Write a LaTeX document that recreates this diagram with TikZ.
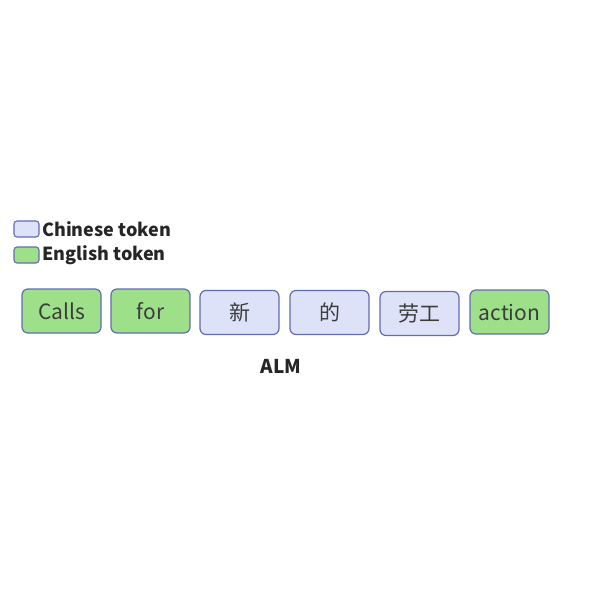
\documentclass[tikz,border=0pt]{standalone}
\usepackage{fontspec}
\setmainfont{Noto Sans CJK SC}
\definecolor{engfill}{RGB}{158,224,138}
\definecolor{chnfill}{RGB}{221,226,248}
\definecolor{tokline}{RGB}{98,108,178}
\definecolor{toktext}{RGB}{60,60,60}
\begin{document}
\begin{tikzpicture}[x=1pt, y=-1pt]
\tikzset{
  token/.style={draw=tokline, line width=1.2pt, rounded corners=6pt,
    minimum width=79pt, minimum height=44pt, inner sep=0pt,
    text=toktext, font=\fontsize{21}{21}\selectfont},
  eng/.style={token, fill=engfill},
  chn/.style={token, fill=chnfill},
  legbox/.style={draw=tokline, line width=1.1pt, rounded corners=3pt,
    minimum width=25pt, minimum height=16pt, inner sep=0pt},
  legtext/.style={anchor=west, inner sep=0pt, text=black!85,
    font=\fontsize{18}{18}\selectfont\bfseries}
}
\useasboundingbox (0,0) rectangle (605,605);

% === Legend ===
\node[legbox, fill=chnfill] (LegendChn) at (26.5,229) {};
\node[legtext] (LegendChnText) at (42,229) {Chinese token};
\node[legbox, fill=engfill] (LegendEng) at (26.5,255) {};
\node[legtext] (LegendEngText) at (42,255) {English token};

% === Tokens ===
\foreach \x/\y/\kind/\word [count=\i] in {
  61.5/311/eng/Calls, 150.5/311/eng/for, 239.5/312.5/chn/新,
  329.5/312.5/chn/的, 419.5/313.5/chn/劳工, 509.5/312/eng/action}{
  \node[\kind] (Token-\i) at (\x,\y) {\word};
}

% === Caption ===
\node[font=\fontsize{19}{19}\selectfont\bfseries, text=black!85]
  (Caption) at (281,366) {ALM};

\end{tikzpicture}
\end{document}
